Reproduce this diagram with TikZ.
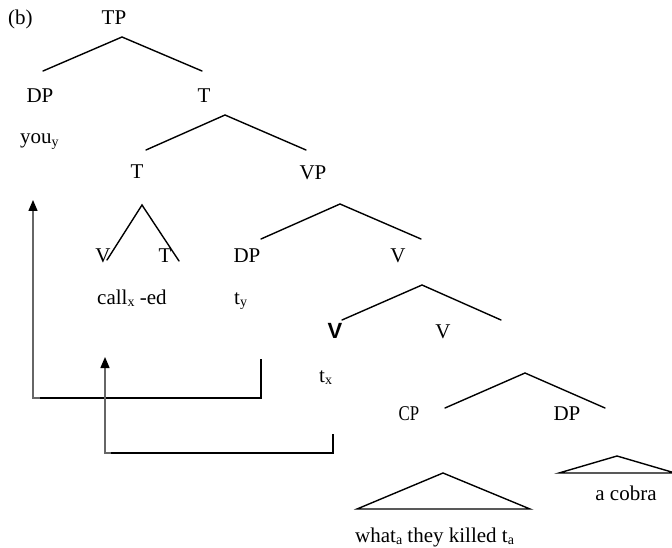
\documentclass[tikz,border=0pt]{standalone}
\usepackage{fontspec}
\setmainfont{Liberation Serif}
\newfontfamily\arialfont{Liberation Sans}
\usetikzlibrary{arrows.meta}
\newcommand{\subsc}[1]{\raisebox{-0.12em}{\fontsize{14}{14}\selectfont #1}}
\tikzset{
  lbl/.style={inner sep=0pt, anchor=base, font=\fontsize{21}{24}\selectfont},
  lblw/.style={lbl, anchor=base west},
  branch/.style={line width=1.4pt, line cap=round},
  movegray/.style={line width=1.5pt, draw=black!60},
  moveblack/.style={line width=1.5pt, draw=black},
  tip/.style={-{Triangle[width=9pt,length=11pt,color=black]}}
}
\begin{document}
\begin{tikzpicture}[x=1pt,y=-1pt]
\useasboundingbox (0,0) rectangle (672,548);
% labels
\node[lblw] (b) at (8,25) {(b)};
\node[lbl] (tp) at (114,25) {TP};
\node[lbl] (dp1) at (40,103) {DP};
\node[lbl] (t1) at (204,103) {T};
\node[lblw] (you) at (20,144) {you\subsc{y}};
\node[lbl] (t2) at (137,179) {T};
\node[lbl] (vp) at (313,180) {VP};
\node[lbl] (v1) at (103,262) {V};
\node[lbl] (t3) at (165,262) {T};
\node[lbl] (dp2) at (247,262) {DP};
\node[lbl] (v2) at (398,262) {V};
\node[lblw] (call) at (97,304) {call\subsc{x} -ed};
\node[lblw] (ty) at (234,304) {t\subsc{y}};
\node[lbl, font=\arialfont\bfseries\fontsize{22}{24}\selectfont] (vb) at (335,338) {V};
\node[lbl] (v3) at (443,338) {V};
\node[lblw] (tx) at (319,382) {t\subsc{x}};
\node[lbl] (cp) at (409,420) {\scalebox{0.8}[1]{CP}};
\node[lbl] (dp3) at (567,420) {DP};
\node[lbl] (cobra) at (626,500) {a cobra};
\node[lblw] (what) at (355,542) {what\subsc{a} they killed t\subsc{a}};
% branch coordinates
\coordinate (aTP) at (122,37); \coordinate (lTP) at (43,71); \coordinate (rTP) at (202,71);
\coordinate (aT1) at (225,115); \coordinate (lT1) at (146,150); \coordinate (rT1) at (306,150);
\coordinate (aT2) at (142,205); \coordinate (lT2) at (107,260); \coordinate (rT2) at (179,261);
\coordinate (aVP) at (340,204); \coordinate (lVP) at (261,239); \coordinate (rVP) at (421,239);
\coordinate (aV) at (422,285); \coordinate (lV) at (342,320); \coordinate (rV) at (501,320);
\coordinate (aV2) at (525,373); \coordinate (lV2) at (445,408); \coordinate (rV2) at (605,408);
\draw[branch] (lTP) -- (aTP) -- (rTP);
\draw[branch] (lT1) -- (aT1) -- (rT1);
\draw[branch] (lT2) -- (aT2) -- (rT2);
\draw[branch] (lVP) -- (aVP) -- (rVP);
\draw[branch] (lV) -- (aV) -- (rV);
\draw[branch] (lV2) -- (aV2) -- (rV2);
% triangles
\coordinate (cpA) at (443,473); \coordinate (cpL) at (357,509); \coordinate (cpR) at (530,509);
\draw[branch, line join=miter] (cpA) -- (cpL) -- (cpR) -- cycle;
\coordinate (dpA) at (617,456); \coordinate (dpL) at (559,473); \coordinate (dpR) at (675,473);
\draw[branch, line join=miter] (dpA) -- (dpL) -- (dpR) -- cycle;
% movement arrows
\coordinate (m1top) at (33,200); \coordinate (m1bot) at (33,398);
\coordinate (m1r) at (261,398); \coordinate (m1end) at (261,359);
\coordinate (m1g) at (40,398);
\draw[moveblack] (m1g) -- (m1r) -- (m1end);
\draw[movegray, tip] (m1g) -- (m1bot) -- (m1top);
\coordinate (m2top) at (105,357); \coordinate (m2bot) at (105,453);
\coordinate (m2g) at (111,453);
\coordinate (m2r) at (333,453); \coordinate (m2end) at (333,434);
\draw[moveblack] (m2g) -- (m2r) -- (m2end);
\draw[movegray, tip] (m2g) -- (m2bot) -- (m2top);
\end{tikzpicture}
\end{document}
